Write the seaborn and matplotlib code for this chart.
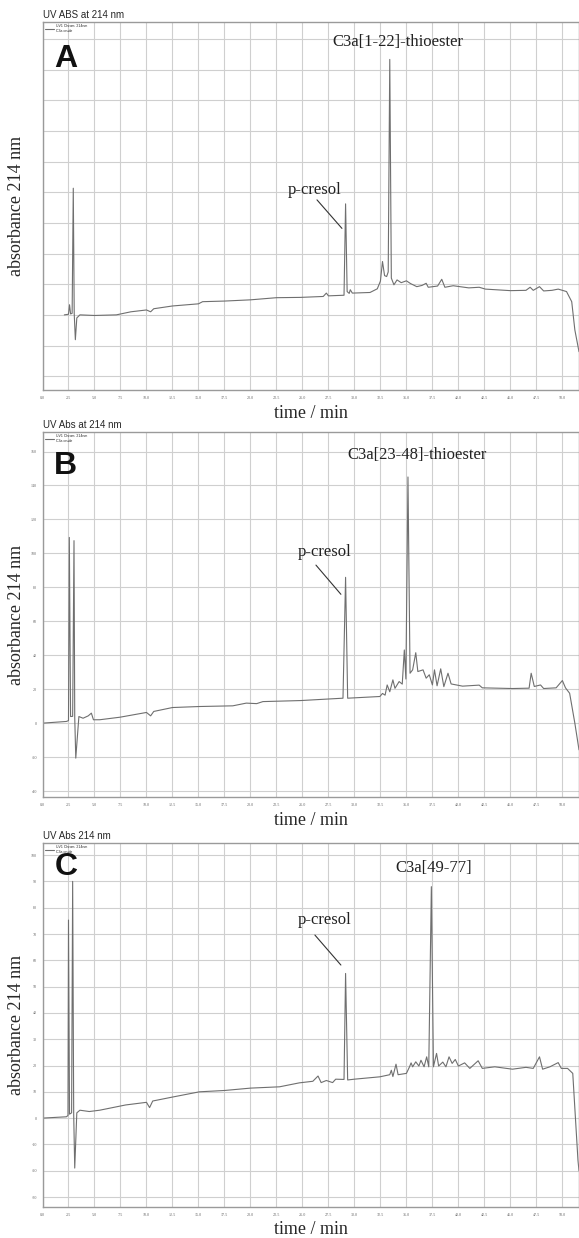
import matplotlib
matplotlib.use("Agg")
import matplotlib.pyplot as plt
import numpy as np
import pandas as pd
import seaborn as sns
from matplotlib.ticker import MultipleLocator, FormatStrFormatter

# chromatogram A: C3a[1-22]-thioester
time_a = [2.1, 2.5, 2.6, 2.7, 2.85, 2.96, 3.05, 3.16, 3.3, 3.6, 5.0, 7.1, 8.5, 10.0, 10.4, 10.7,
          12.5, 15.0, 15.4, 17.5, 20.0, 22.5, 24.8, 27.0, 27.3, 27.5, 29.0, 29.15, 29.3, 29.5,
          29.6, 29.8, 31.5, 32.2, 32.5, 32.7, 32.9, 33.1, 33.25, 33.4, 33.55, 33.8, 34.1, 34.5,
          35.0, 35.4, 36.0, 36.5, 36.9, 37.1, 38.0, 38.4, 38.7, 39.5, 41.0, 42.0, 42.6, 45.0,
          46.5, 46.9, 47.2, 47.8, 48.2, 49.0, 49.6, 50.4, 50.9, 51.2, 51.6]
abs_a = [0.0, 0.2, 3.3, 0.3, 0.5, 41.3, 0.5, -8.1, -1.0, 0.0, -0.2, 0.0, 1.0, 1.6, 1.0, 2.0,
         2.9, 3.6, 4.3, 4.5, 4.9, 5.6, 5.7, 6.0, 7.1, 6.2, 6.4, 36.2, 7.6, 7.0,
         8.2, 7.1, 7.3, 8.5, 11.0, 17.4, 12.8, 12.5, 14.0, 83.3, 12.0, 9.8, 11.4, 10.5,
         11.1, 10.2, 9.2, 9.6, 10.3, 9.0, 9.4, 11.6, 9.0, 9.5, 8.8, 9.0, 8.4, 7.9,
         8.0, 9.0, 8.0, 9.2, 7.8, 8.0, 8.4, 7.6, 4.3, -4.9, -12.0]

# chromatogram B: C3a[23-48]-thioester
time_b = [0.0, 2.3, 2.5, 2.58, 2.7, 2.9, 3.03, 3.1, 3.2, 3.5, 3.9, 4.4, 4.7, 4.9, 5.5, 7.45,
          10.0, 10.4, 10.7, 12.5, 15.1, 18.3, 19.6, 20.6, 21.2, 24.8, 28.9, 29.15, 29.35,
          32.45, 32.7, 32.95, 33.15, 33.4, 33.7, 33.9, 34.3, 34.6, 34.8, 34.95, 35.15, 35.35,
          35.6, 35.9, 36.1, 36.6, 36.9, 37.2, 37.5, 37.7, 37.95, 38.3, 38.6, 39.0, 39.3, 40.4,
          42.0, 42.3, 45.2, 46.8, 47.0, 47.3, 47.9, 48.2, 49.4, 50.0, 50.3, 50.7, 51.2, 51.6]
abs_b = [0.0, 1.0, 1.5, 109.4, 3.9, 4.0, 107.5, 3.5, -20.6, 3.9, 2.9, 4.3, 5.9, 2.0, 2.0, 3.5,
         6.3, 4.3, 6.9, 9.2, 9.8, 10.2, 11.8, 11.5, 12.7, 13.3, 14.7, 85.9, 14.7,
         15.7, 17.5, 16.5, 22.5, 18.5, 25.5, 20.5, 24.5, 23.0, 43.1, 26.0, 145.0, 29.4,
         31.4, 41.5, 30.4, 31.4, 26.5, 28.5, 22.5, 31.4, 22.0, 32.0, 21.5, 29.4, 23.1, 21.8,
         22.4, 20.8, 20.4, 20.6, 29.4, 21.6, 22.5, 20.4, 20.8, 25.1, 20.8, 17.6, 0.0, -15.7]

# chromatogram C: C3a[49-77]
time_c = [0.0, 2.3, 2.45, 2.5, 2.6, 2.8, 2.9, 3.0, 3.1, 3.3, 3.6, 4.5, 5.5, 8.0, 10.0, 10.3,
          10.6, 12.5, 15.1, 17.5, 20.0, 22.8, 24.7, 26.0, 26.5, 26.8, 27.3, 27.9, 28.2, 29.0,
          29.15, 29.35, 30.0, 32.45, 33.4, 33.55, 33.7, 34.0, 34.2, 35.0, 35.3, 35.45, 35.6,
          35.9, 36.2, 36.4, 36.7, 36.95, 37.15, 37.4, 37.6, 37.9, 38.1, 38.5, 38.8, 39.1, 39.4,
          39.7, 40.0, 40.6, 41.1, 41.9, 42.3, 43.5, 45.2, 46.5, 47.2, 47.8, 48.1, 48.8, 49.6,
          49.9, 50.5, 51.0, 51.5, 51.6]
abs_c = [0.0, 0.5, 1.0, 75.3, 1.5, 2.0, 90.0, 1.5, -19.0, 2.0, 3.0, 2.5, 3.0, 5.0, 6.0, 4.0,
         6.5, 8.0, 10.0, 10.5, 11.4, 11.9, 13.4, 14.0, 16.0, 13.5, 14.3, 13.5, 14.8, 14.7,
         55.0, 14.5, 14.8, 15.7, 16.5, 18.2, 15.8, 20.5, 16.5, 17.0, 19.5, 21.0, 19.5,
         21.4, 19.8, 22.0, 19.5, 23.3, 19.5, 88.0, 19.5, 24.6, 19.8, 21.3, 19.5, 23.3, 20.8,
         22.3, 19.8, 21.0, 18.9, 21.8, 18.9, 19.5, 18.6, 19.3, 18.9, 23.3, 18.6, 19.5, 21.1,
         18.9, 18.9, 17.0, -16.0, -20.0]

panel_letters = ["A", "B", "C"]
panel_titles = ["UV ABS at 214 nm", "UV Abs at 214 nm", "UV Abs 214 nm"]
product_labels = ["C3a[1-22]-thioester", "C3a[23-48]-thioester", "C3a[49-77]"]
product_label_pos = [(34.2, 89.0), (36.0, 157.8), (37.6, 95.0)]
cresol_label_pos = [(26.2, 40.7), (27.1, 101.0), (27.1, 75.3)]
cresol_line = [((26.4, 37.5), (28.8, 28.2)), ((26.3, 93.1), (28.7, 75.9)), ((26.2, 69.6), (28.7, 58.2))]
y_limits = [(-24.5, 95.5), (-43.5, 171.5), (-33.8, 104.6)]
y_steps = [10, 20, 10]

sns.set_style("white")
plt.rcParams['font.family'] = ['Liberation Serif', 'DejaVu Serif']

fig = plt.figure(figsize=(5.79, 12.38), dpi=100)
boxes = [(390, 368), (797, 365), (1207, 364)]
letter_y = [0.899, 0.907, 0.934]
xlabel_pad = [4, 4, 3]
series = [(time_a, abs_a), (time_b, abs_b), (time_c, abs_c)]

for i in range(3):
    bottom_px, height_px = boxes[i]
    ax = fig.add_axes([42.5 / 579, 1 - bottom_px / 1238, (579 - 42.5) / 579, height_px / 1238])
    df = pd.DataFrame({"time": series[i][0], "absorbance": series[i][1]})
    sns.lineplot(data=df, x="time", y="absorbance", ax=ax, color="#6f6f6f", lw=0.8,
                 estimator=None, sort=False, label="UV1 Chrom. 214nm\nC3a crude")
    ax.set_xlim(0, 51.6)
    ax.set_ylim(*y_limits[i])
    ax.xaxis.set_major_locator(MultipleLocator(2.5))
    ax.yaxis.set_major_locator(MultipleLocator(y_steps[i]))
    ax.xaxis.set_major_formatter(FormatStrFormatter('%.1f'))
    ax.grid(True, color="#cfcfcf", lw=0.8)
    ax.set_axisbelow(True)
    for sp in ax.spines.values():
        sp.set_color("#9a9a9a")
        sp.set_linewidth(1.0)
    ax.tick_params(axis='both', labelsize=3.0, labelcolor="#666666", length=1.5,
                   color="#999999", pad=2.5)
    if i == 0:
        ax.tick_params(axis='y', labelleft=False, length=0)
    else:
        ax.yaxis.set_minor_locator(MultipleLocator(y_steps[i] / 4))
        ax.tick_params(axis='y', which='minor', length=1, color="#999999")
        ax.yaxis.set_major_formatter(FormatStrFormatter('%d'))
    ax.set_xlabel("time / min", fontsize=13, labelpad=xlabel_pad[i])
    ax.set_ylabel("absorbance 214 nm", fontsize=13)
    ax.yaxis.set_label_coords(-0.033, 0.5)
    ax.set_title(panel_titles[i], loc='left', fontsize=7, pad=3,
                 family=['Liberation Sans', 'DejaVu Sans'])
    ax.legend(loc='upper left', frameon=False, handlelength=2.5, borderaxespad=0.3,
              prop={'family': 'Liberation Sans', 'size': 2.5})
    ax.text(0.022, letter_y[i], panel_letters[i], transform=ax.transAxes, fontsize=23,
            fontweight='bold', family=['Liberation Sans', 'DejaVu Sans'],
            ha='left', va='center', color="#111111")
    ax.text(*product_label_pos[i], product_labels[i], fontsize=12, ha='center', va='center',
            color="#222222")
    ax.text(*cresol_label_pos[i], "p-cresol", fontsize=12, ha='center', va='center',
            color="#222222")
    (x0, y0), (x1, y1) = cresol_line[i]
    ax.plot([x0, x1], [y0, y1], color="#333333", lw=0.8)

fig.savefig("out.png", dpi=100)
